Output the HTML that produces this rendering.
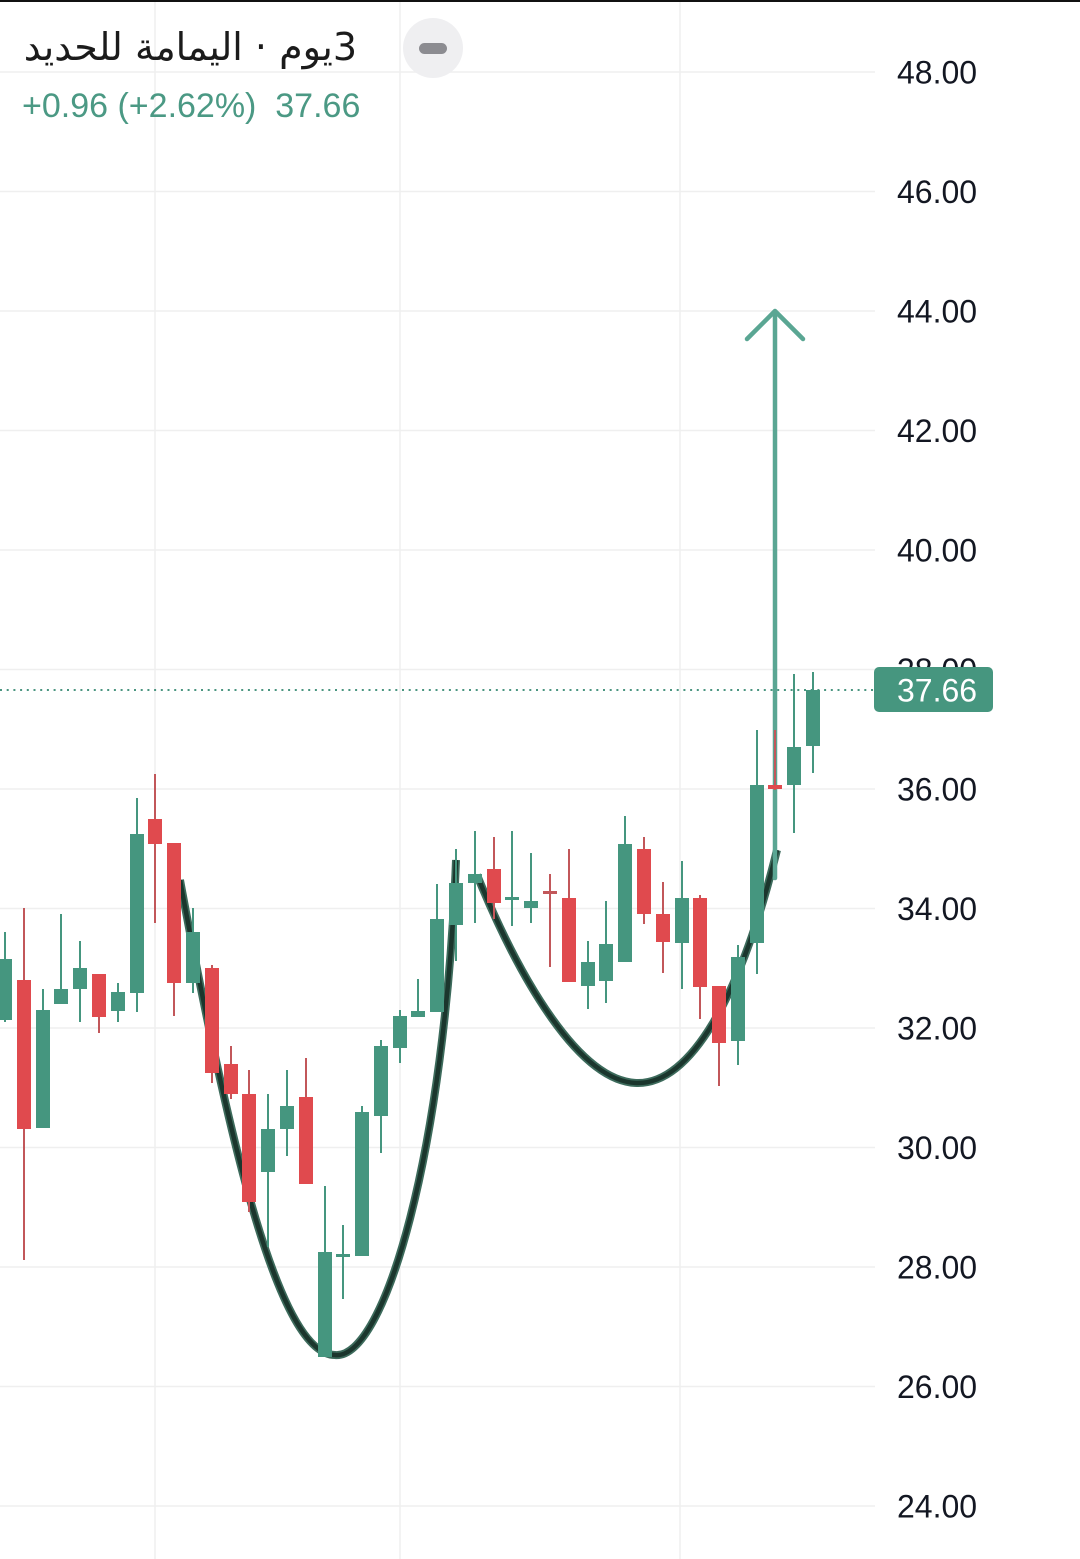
<!DOCTYPE html>
<html>
<head>
<meta charset="utf-8">
<style>
  html,body{margin:0;padding:0;background:#fff;}
  body{width:1080px;height:1559px;position:relative;overflow:hidden;}
  svg{position:absolute;left:0;top:0;}
  .title{position:absolute;right:723px;top:28px;font-family:"DejaVu Sans",sans-serif;font-size:38px;line-height:1;color:#1b1b1b;direction:rtl;white-space:nowrap;}
  .sub{position:absolute;left:22px;top:89px;font-family:"Liberation Sans",sans-serif;font-size:34px;line-height:1;color:#4b9984;white-space:pre;}
  .btn{position:absolute;left:403px;top:18px;width:60px;height:60px;border-radius:50%;background:#efeff1;}
  .btn i{position:absolute;left:16px;top:25px;width:28px;height:11px;border-radius:6px;background:#8c8c91;}
</style>
</head>
<body>
<svg width="1080" height="1559" viewBox="0 0 1080 1559" xmlns="http://www.w3.org/2000/svg">
  <rect x="0" y="0" width="1080" height="2" fill="#111"/>
  <g stroke="#efefef" stroke-width="1.5">
    <line x1="155" y1="2" x2="155" y2="1559"/>
    <line x1="400" y1="2" x2="400" y2="1559"/>
    <line x1="680" y1="2" x2="680" y2="1559"/>
  </g>
  <g stroke="#efefef" stroke-width="1.5">
    <line x1="0" y1="72" x2="875" y2="72"/>
    <line x1="0" y1="191.5" x2="875" y2="191.5"/>
    <line x1="0" y1="311" x2="875" y2="311"/>
    <line x1="0" y1="430.5" x2="875" y2="430.5"/>
    <line x1="0" y1="550" x2="875" y2="550"/>
    <line x1="0" y1="669.5" x2="875" y2="669.5"/>
    <line x1="0" y1="789" x2="875" y2="789"/>
    <line x1="0" y1="908.5" x2="875" y2="908.5"/>
    <line x1="0" y1="1028" x2="875" y2="1028"/>
    <line x1="0" y1="1147.5" x2="875" y2="1147.5"/>
    <line x1="0" y1="1267" x2="875" y2="1267"/>
    <line x1="0" y1="1386.5" x2="875" y2="1386.5"/>
    <line x1="0" y1="1506" x2="875" y2="1506"/>
  </g>
  <g font-family="Liberation Sans, sans-serif" font-size="32" fill="#131722">
    <text x="897" y="83.5">48.00</text>
    <text x="897" y="203">46.00</text>
    <text x="897" y="322.5">44.00</text>
    <text x="897" y="442">42.00</text>
    <text x="897" y="561.5">40.00</text>
    <text x="897" y="681">38.00</text>
    <text x="897" y="800.5">36.00</text>
    <text x="897" y="920">34.00</text>
    <text x="897" y="1039.5">32.00</text>
    <text x="897" y="1159">30.00</text>
    <text x="897" y="1278.5">28.00</text>
    <text x="897" y="1398">26.00</text>
    <text x="897" y="1517.5">24.00</text>
  </g>
  <line x1="0" y1="690" x2="874" y2="690" stroke="#4a9580" stroke-width="2" stroke-dasharray="2 4.7"/>

  <g fill="none" stroke-linecap="butt">
    <path d="M180,880 C230,1150 280,1355 335,1355 C385,1360 445,1150 456,860" stroke="#3d6b5c" stroke-width="8"/>
    <path d="M180,880 C230,1150 280,1355 335,1355 C385,1360 445,1150 456,860" stroke="#1b362d" stroke-width="4.5"/>
    <path d="M477,875 C520,980 580,1083 638,1083 C690,1083 740,1000 777,850" stroke="#3d6b5c" stroke-width="8"/>
    <path d="M477,875 C520,980 580,1083 638,1083 C690,1083 740,1000 777,850" stroke="#1b362d" stroke-width="4.5"/>
  </g>

  <g stroke="#5aa693" stroke-width="4.5" fill="none" stroke-linecap="round" stroke-linejoin="round">
    <line x1="775" y1="313" x2="775" y2="878"/>
    <polyline points="747,339 775,311 803,339"/>
  </g>

  <g id="candles">
    <rect x="4" y="932" width="2" height="90" fill="#45967f"/><rect x="-2" y="959" width="14" height="61" fill="#45967f"/>
    <rect x="23" y="908" width="2" height="352" fill="#c2575a"/><rect x="17" y="980" width="14" height="149" fill="#e04a4e"/>
    <rect x="42" y="989" width="2" height="139" fill="#45967f"/><rect x="36" y="1010" width="14" height="118" fill="#45967f"/>
    <rect x="60" y="914" width="2" height="90" fill="#45967f"/><rect x="54" y="989" width="14" height="15" fill="#45967f"/>
    <rect x="79" y="941" width="2" height="81" fill="#45967f"/><rect x="73" y="968" width="14" height="21" fill="#45967f"/>
    <rect x="98" y="974" width="2" height="59" fill="#c2575a"/><rect x="92" y="974" width="14" height="43" fill="#e04a4e"/>
    <rect x="117" y="983" width="2" height="39" fill="#45967f"/><rect x="111" y="992" width="14" height="19" fill="#45967f"/>
    <rect x="136" y="798" width="2" height="214" fill="#45967f"/><rect x="130" y="834" width="14" height="159" fill="#45967f"/>
    <rect x="154" y="774" width="2" height="149" fill="#c2575a"/><rect x="148" y="819" width="14" height="25" fill="#e04a4e"/>
    <rect x="173" y="843" width="2" height="173" fill="#c2575a"/><rect x="167" y="843" width="14" height="140" fill="#e04a4e"/>
    <rect x="192" y="908" width="2" height="85" fill="#45967f"/><rect x="186" y="932" width="14" height="51" fill="#45967f"/>
    <rect x="211" y="965" width="2" height="118" fill="#c2575a"/><rect x="205" y="968" width="14" height="105" fill="#e04a4e"/>
    <rect x="230" y="1046" width="2" height="53" fill="#c2575a"/><rect x="224" y="1064" width="14" height="30" fill="#e04a4e"/>
    <rect x="248" y="1070" width="2" height="142" fill="#c2575a"/><rect x="242" y="1094" width="14" height="108" fill="#e04a4e"/>
    <rect x="267" y="1094" width="2" height="153" fill="#45967f"/><rect x="261" y="1129" width="14" height="43" fill="#45967f"/>
    <rect x="286" y="1070" width="2" height="86" fill="#45967f"/><rect x="280" y="1106" width="14" height="23" fill="#45967f"/>
    <rect x="305" y="1058" width="2" height="126" fill="#c2575a"/><rect x="299" y="1097" width="14" height="87" fill="#e04a4e"/>
    <rect x="324" y="1186" width="2" height="171" fill="#45967f"/><rect x="318" y="1252" width="14" height="105" fill="#45967f"/>
    <rect x="342" y="1225" width="2" height="74" fill="#45967f"/><rect x="336" y="1254" width="14" height="3" fill="#45967f"/>
    <rect x="361" y="1106" width="2" height="150" fill="#45967f"/><rect x="355" y="1112" width="14" height="144" fill="#45967f"/>
    <rect x="380" y="1040" width="2" height="113" fill="#45967f"/><rect x="374" y="1046" width="14" height="70" fill="#45967f"/>
    <rect x="399" y="1010" width="2" height="53" fill="#45967f"/><rect x="393" y="1016" width="14" height="32" fill="#45967f"/>
    <rect x="417" y="979" width="2" height="38" fill="#45967f"/><rect x="411" y="1011" width="14" height="6" fill="#45967f"/>
    <rect x="436" y="884" width="2" height="128" fill="#45967f"/><rect x="430" y="919" width="14" height="93" fill="#45967f"/>
    <rect x="455" y="849" width="2" height="112" fill="#45967f"/><rect x="449" y="883" width="14" height="42" fill="#45967f"/>
    <rect x="474" y="831" width="2" height="92" fill="#45967f"/><rect x="468" y="874" width="14" height="9" fill="#45967f"/>
    <rect x="493" y="837" width="2" height="82" fill="#c2575a"/><rect x="487" y="869" width="14" height="34" fill="#e04a4e"/>
    <rect x="511" y="831" width="2" height="95" fill="#45967f"/><rect x="505" y="897" width="14" height="3" fill="#45967f"/>
    <rect x="530" y="853" width="2" height="70" fill="#45967f"/><rect x="524" y="901" width="14" height="7" fill="#45967f"/>
    <rect x="549" y="874" width="2" height="93" fill="#c2575a"/><rect x="543" y="891" width="14" height="3" fill="#c2575a"/>
    <rect x="568" y="849" width="2" height="133" fill="#c2575a"/><rect x="562" y="898" width="14" height="84" fill="#e04a4e"/>
    <rect x="587" y="941" width="2" height="68" fill="#45967f"/><rect x="581" y="962" width="14" height="24" fill="#45967f"/>
    <rect x="605" y="901" width="2" height="102" fill="#45967f"/><rect x="599" y="944" width="14" height="37" fill="#45967f"/>
    <rect x="624" y="816" width="2" height="146" fill="#45967f"/><rect x="618" y="844" width="14" height="118" fill="#45967f"/>
    <rect x="643" y="837" width="2" height="87" fill="#c2575a"/><rect x="637" y="849" width="14" height="65" fill="#e04a4e"/>
    <rect x="662" y="882" width="2" height="91" fill="#c2575a"/><rect x="656" y="914" width="14" height="28" fill="#e04a4e"/>
    <rect x="681" y="861" width="2" height="128" fill="#45967f"/><rect x="675" y="898" width="14" height="45" fill="#45967f"/>
    <rect x="699" y="895" width="2" height="124" fill="#c2575a"/><rect x="693" y="898" width="14" height="89" fill="#e04a4e"/>
    <rect x="718" y="986" width="2" height="100" fill="#c2575a"/><rect x="712" y="986" width="14" height="57" fill="#e04a4e"/>
    <rect x="737" y="945" width="2" height="120" fill="#45967f"/><rect x="731" y="957" width="14" height="84" fill="#45967f"/>
    <rect x="756" y="730" width="2" height="244" fill="#45967f"/><rect x="750" y="785" width="14" height="158" fill="#45967f"/>
    <rect x="774" y="730" width="2" height="60" fill="#c2575a"/><rect x="768" y="785" width="14" height="4" fill="#e04a4e"/>
    <rect x="793" y="674" width="2" height="159" fill="#45967f"/><rect x="787" y="747" width="14" height="38" fill="#45967f"/>
    <rect x="812" y="672" width="2" height="101" fill="#45967f"/><rect x="806" y="690" width="14" height="56" fill="#45967f"/>
  </g>

  <rect x="874" y="667" width="119" height="45" rx="5" ry="5" fill="#46967f"/>
  <text x="897" y="701.5" font-family="Liberation Sans, sans-serif" font-size="32" fill="#ffffff">37.66</text>
</svg>

<div class="title">3يوم · اليمامة للحديد</div>
<div class="sub">+0.96 (+2.62%)  37.66</div>
<div class="btn"><i></i></div>
</body>
</html>
